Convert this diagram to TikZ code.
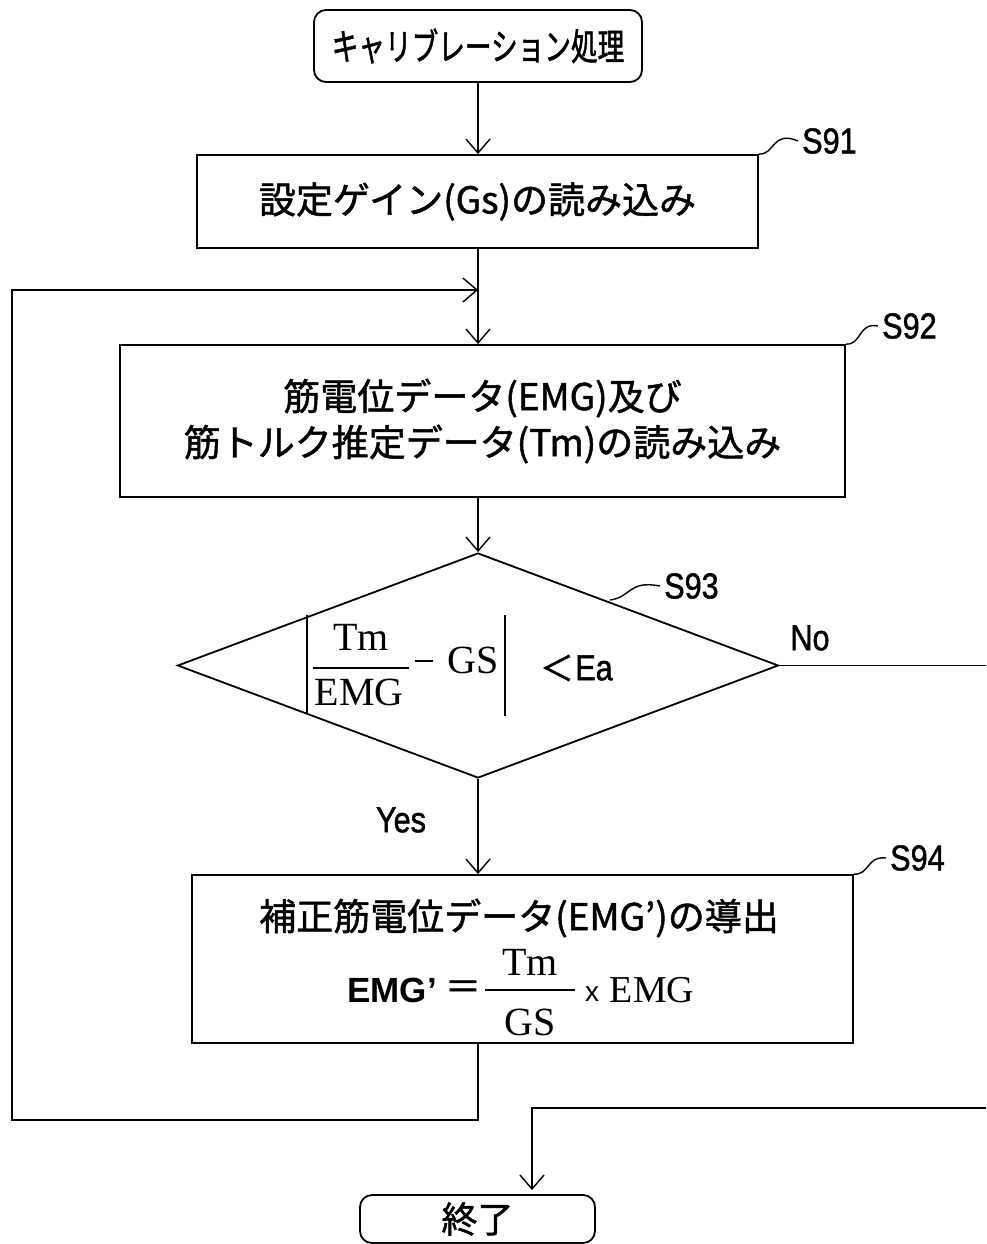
\documentclass[tikz,border=0pt]{standalone}
\usepackage{fontspec}
\usetikzlibrary{shapes.geometric,arrows.meta}
\newfontfamily\jp[FakeBold=1.3]{Noto Sans CJK JP}
\newfontfamily\jpn[FakeStretch=0.72,FakeBold=1.3]{Noto Sans CJK JP}
\newfontfamily\lab[FakeStretch=0.85,FakeBold=1.3]{Liberation Sans}
\newfontfamily\labb{Liberation Sans}
\newfontfamily\ser{Liberation Serif}
\begin{document}
\begin{tikzpicture}[x=1pt,y=-1pt,line width=1.8pt,
  box/.style={draw,rectangle,inner sep=0pt},
  term/.style={draw,rectangle,rounded corners=12pt,inner sep=0pt},
  arr/.style={-{Straight Barb[length=14pt,width=24pt,line width=1.4pt]}},
  lead/.style={line width=1.4pt},
  jt/.style={font=\jp\fontsize{37}{46}\selectfont},
  lt/.style={font=\lab\fontsize{36}{40}\selectfont},
  st/.style={font=\ser\fontsize{40}{44}\selectfont},
]
\useasboundingbox (0,0) rectangle (986,1244);
\coordinate (ax) at (478,0);

% nodes
\node[term,minimum width=328pt,minimum height=72pt,font=\jpn\fontsize{37}{40}\selectfont] (start) at (478,46) {キャリブレーション処理};
\node[box,minimum width=561pt,minimum height=93pt,jt] (s91) at (477.5,201.5) {設定ゲイン(Gs)の読み込み};
\node[box,minimum width=725pt,minimum height=152pt,jt,align=center] (s92) at (482.5,421) {筋電位データ(EMG)及び\\筋トルク推定データ(Tm)の読み込み};
\node[draw,diamond,aspect=2.671,minimum width=601pt,minimum height=225pt,inner sep=0pt] (dia) at (478,665.5) {};
\node[box,minimum width=661pt,minimum height=168pt] (s94) at (522.5,959) {};
\node[term,minimum width=235pt,minimum height=48pt,font=\jp\fontsize{36}{40}\selectfont] (end) at (477.5,1219) {終了};

% step labels
\node[lt,anchor=west] (l91) at (798,141) {S91};
\node[lt,anchor=west] (l92) at (878,326) {S92};
\node[lt,anchor=west] (l93) at (660,586) {S93};
\node[lt,anchor=west] (l94) at (886,858) {S94};
\draw[lead] (s91.north east) .. controls (775,155) and (772,130) .. (l91.west);
\draw[lead] (s92.north east) .. controls (862,345) and (858,322) .. (l92.west);
\draw[lead] (610,600) .. controls (632,597) and (628,580) .. (l93.west);
\draw[lead] (s94.north east) .. controls (870,875) and (866,856) .. (l94.west);

% diamond formula
\draw (307,615) -- (307,713);
\draw (505,615) -- (505,716);
\node[st] (tm1) at (361,637) {Tm};
\draw[line width=1.6pt] (313,668) -- (409,668);
\node[st] (emg1) at (359,692) {EMG};
\draw[line width=1.2pt] (415,661) -- (433,661);
\node[st] (gs1) at (473,660) {GS};
\node[font=\jp\fontsize{34}{40}\selectfont] (lt1) at (557,668) {＜};
\node[lt] (ea) at (594,668) {Ea};

% branch labels
\node[lt] (no) at (810,638) {No};
\node[lt] (yes) at (401,820) {Yes};

% S94 content
\node[jt] (s94t) at (519,918) {補正筋電位データ(EMG’)の導出};
\node[font=\labb\bfseries\fontsize{35}{40}\selectfont] (emgp) at (392,990) {EMG’};
\node[font=\jp\fontsize{36}{40}\selectfont] (eq) at (463,990) {＝};
\node[st] (tm2) at (530,962) {Tm};
\draw[line width=1.6pt] (485,990) -- (575,990);
\node[st] (gs2) at (530,1022) {GS};
\node[font=\labb\fontsize{28}{30}\selectfont] (times) at (592,994) {x};
\node[st,font=\ser\fontsize{38}{42}\selectfont] (emg2) at (652,990) {EMG};

% connectors
\draw[arr] (start.south) -- (start.south |- s91.north);
\draw[arr] (s91.south -| ax) -- (s92.north -| ax);
\draw[arr] (s92.south -| ax) -- (dia.north);
\draw[arr] (dia.south) -- (s94.north -| ax);
\coordinate (lp1) at (478,1120);
\coordinate (lp2) at (12,1120);
\coordinate (lp3) at (12,290);
\coordinate (lp4) at (478,290);
\draw[arr] (s94.south -| ax) -- (lp1) -- (lp2) -- (lp3) -- (lp4);
\coordinate (noA) at (986,665.5);
\draw (dia.east) -- (noA);
\coordinate (noB) at (986,1108);
\coordinate (noC) at (532,1108);
\draw[arr,shorten >=4pt] (noB) -- (noC) -- (noC |- end.north);
\end{tikzpicture}
\end{document}
